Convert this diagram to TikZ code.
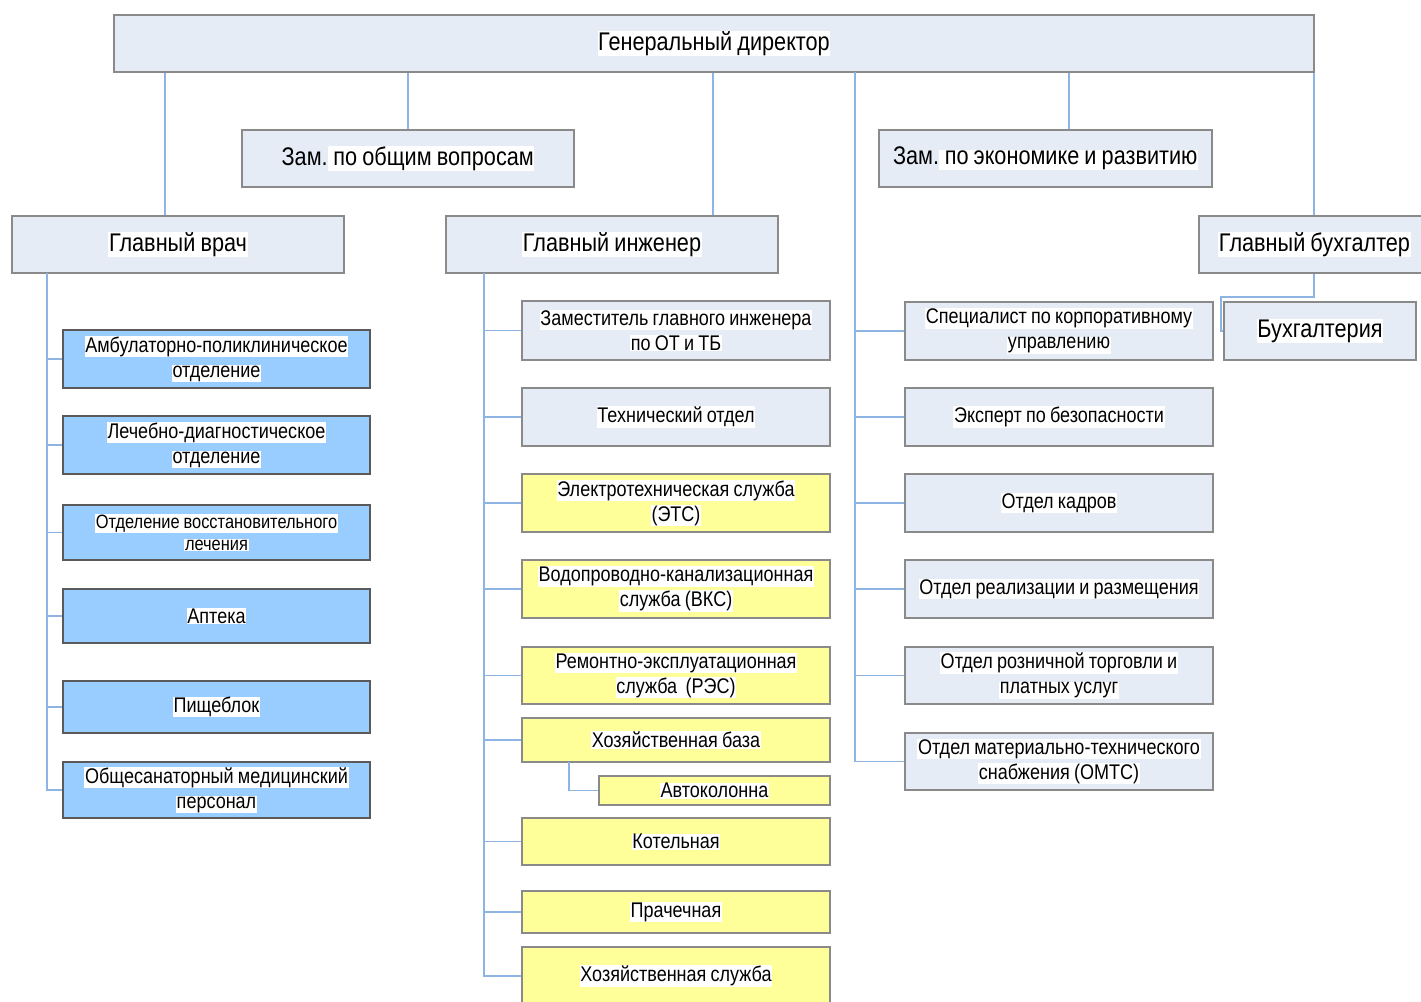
\documentclass[tikz,border=0pt]{standalone}
\usepackage{fontspec}
\setmainfont{Liberation Sans}[FakeStretch=0.85, WordSpace=0.85]
\definecolor{lb}{HTML}{E6ECF6}
\definecolor{bl}{HTML}{99CCFF}
\definecolor{yl}{HTML}{FFFF99}
\definecolor{ln}{HTML}{8EB4E3}
\definecolor{bd}{HTML}{8A8A8A}
\definecolor{bdd}{HTML}{5A5A5A}
\newcommand\hl[1]{{\setlength\fboxsep{0.6pt}\colorbox{white}{#1}}}
\tikzset{
  box/.style={draw=bd, line width=1.3pt, inner sep=0pt, align=center, text=black},
  lbox/.style={box, fill=lb},
  bbox/.style={box, fill=bl, draw=bdd},
  ybox/.style={box, fill=yl},
  big/.style={font=\fontsize{25.5}{28}\selectfont},
  sml/.style={font=\fontsize{21.2}{25}\selectfont},
  tiny/.style={font=\fontsize{19.3}{22}\selectfont},
  conn/.style={draw=ln, line width=1.3pt},
  colL/.style={minimum width=307},
  colM/.style={minimum width=308},
  colR/.style={minimum width=308},
}
\begin{document}
\begin{tikzpicture}[x=1pt,y=-1pt]
\useasboundingbox (0,0) rectangle (1421,1001);
\fill[white] (0,0) rectangle (1421,1001);
\clip (0,0) rectangle (1421,1001);

% trunk coordinates
\coordinate (k1) at (165,72);
\coordinate (k2) at (408,72);
\coordinate (k3) at (713,72);
\coordinate (k4) at (1069,72);
\coordinate (k5) at (1314,72);
\coordinate (tR) at (855,72);
\coordinate (tL) at (47,273);
\coordinate (tM) at (484,273);
\coordinate (e1) at (1221,297);
\coordinate (a1) at (569,762);

% connectors from the top box (behind boxes)
\draw[conn] (k1) -- (165,216);
\draw[conn] (k2) -- (408,130);
\draw[conn] (k3) -- (713,216);
\draw[conn] (k4) -- (1069,130);
\draw[conn] (k5) -- (1314,216);

% top levels
\node[lbox, big, minimum width=1200, minimum height=57] (gd) at (714,43.5) {\hl{Генеральный директор}};
\node[lbox, big, minimum width=332, minimum height=57] (zo) at (408,158.5) {Зам.\hl{ по общим вопросам}};
\node[lbox, big, minimum width=333, minimum height=57] (ze) at (1045.5,158.5) {Зам.\hl{ по экономике и развитию}};
\node[lbox, big, minimum width=332, minimum height=57] (gv) at (178,244.5) {\hl{Главный врач}};
\node[lbox, big, minimum width=332, minimum height=57] (gi) at (612,244.5) {\hl{Главный инженер}};
\node[lbox, big, minimum width=231, minimum height=57] (gb) at (1314.5,244.5) {\hl{Главный бухгалтер}};
\node[lbox, big, minimum width=192, minimum height=58] (bh) at (1320,331) {\hl{Бухгалтерия}};

% left column (blue)
\node[bbox, sml, colL, minimum height=58] (b1) at (216.5,359) {\hl{Амбулаторно-поликлиническое}\\\hl{отделение}};
\node[bbox, sml, colL, minimum height=58] (b2) at (216.5,445) {\hl{Лечебно-диагностическое}\\\hl{отделение}};
\node[bbox, tiny, colL, minimum height=55] (b3) at (216.5,532.5) {\hl{Отделение восстановительного}\\\hl{лечения}};
\node[bbox, sml, colL, minimum height=54] (b4) at (216.5,616) {\hl{Аптека}};
\node[bbox, sml, colL, minimum height=52] (b5) at (216.5,707) {\hl{Пищеблок}};
\node[bbox, sml, colL, minimum height=56] (b6) at (216.5,790) {\hl{Общесанаторный медицинский}\\\hl{персонал}};

% middle column
\node[lbox, sml, colM, minimum height=59] (m1) at (676,330.5) {\hl{Заместитель главного инженера}\\\hl{по ОТ и ТБ}};
\node[lbox, sml, colM, minimum height=58] (m2) at (676,417) {\hl{Технический отдел}};
\node[ybox, sml, colM, minimum height=58] (m3) at (676,503) {\hl{Электротехническая служба}\\\hl{(ЭТС)}};
\node[ybox, sml, colM, minimum height=58] (m4) at (676,589) {\hl{Водопроводно-канализационная}\\\hl{служба (ВКС)}};
\node[ybox, sml, colM, minimum height=57] (m5) at (676,675.5) {\hl{Ремонтно-эксплуатационная}\\\hl{служба\ \ (РЭС)}};
\node[ybox, sml, colM, minimum height=44] (m6) at (676,740) {\hl{Хозяйственная база}};
\node[ybox, sml, minimum width=231, minimum height=29] (m7) at (714.5,790.5) {\hl{Автоколонна}};
\node[ybox, sml, colM, minimum height=47] (m8) at (676,841.5) {\hl{Котельная}};
\node[ybox, sml, colM, minimum height=42] (m9) at (676,912) {\hl{Прачечная}};
\node[ybox, sml, colM, minimum height=58] (m10) at (676,976) {\hl{Хозяйственная служба}};

% right column
\node[lbox, sml, colR, minimum height=58] (r1) at (1059,331) {\hl{Специалист по корпоративному}\\\hl{управлению}};
\node[lbox, sml, colR, minimum height=58] (r2) at (1059,417) {\hl{Эксперт по безопасности}};
\node[lbox, sml, colR, minimum height=58] (r3) at (1059,503) {\hl{Отдел кадров}};
\node[lbox, sml, colR, minimum height=58] (r4) at (1059,589) {\hl{Отдел реализации и размещения}};
\node[lbox, sml, colR, minimum height=57] (r5) at (1059,675.5) {\hl{Отдел розничной торговли и}\\\hl{платных услуг}};
\node[lbox, sml, colR, minimum height=57] (r6) at (1059,761.5) {\hl{Отдел материально-технического}\\\hl{снабжения (ОМТС)}};

% trunks and branches
\draw[conn] (tL) |- (b6.west);
\foreach \n in {b1,b2,b3,b4,b5} \draw[conn] (tL |- \n.west) -- (\n.west);
\draw[conn] (tM) |- (m10.west);
\foreach \n in {m1,m2,m3,m4,m5,m6,m8,m9} \draw[conn] (tM |- \n.west) -- (\n.west);
\draw[conn] (a1) |- (m7.west);
\draw[conn] (tR) |- (r6.west);
\foreach \n in {r1,r2,r3,r4,r5} \draw[conn] (tR |- \n.west) -- (\n.west);
\draw[conn] (gb.south -| k5) |- (e1) |- (bh.west);
\end{tikzpicture}
\end{document}
